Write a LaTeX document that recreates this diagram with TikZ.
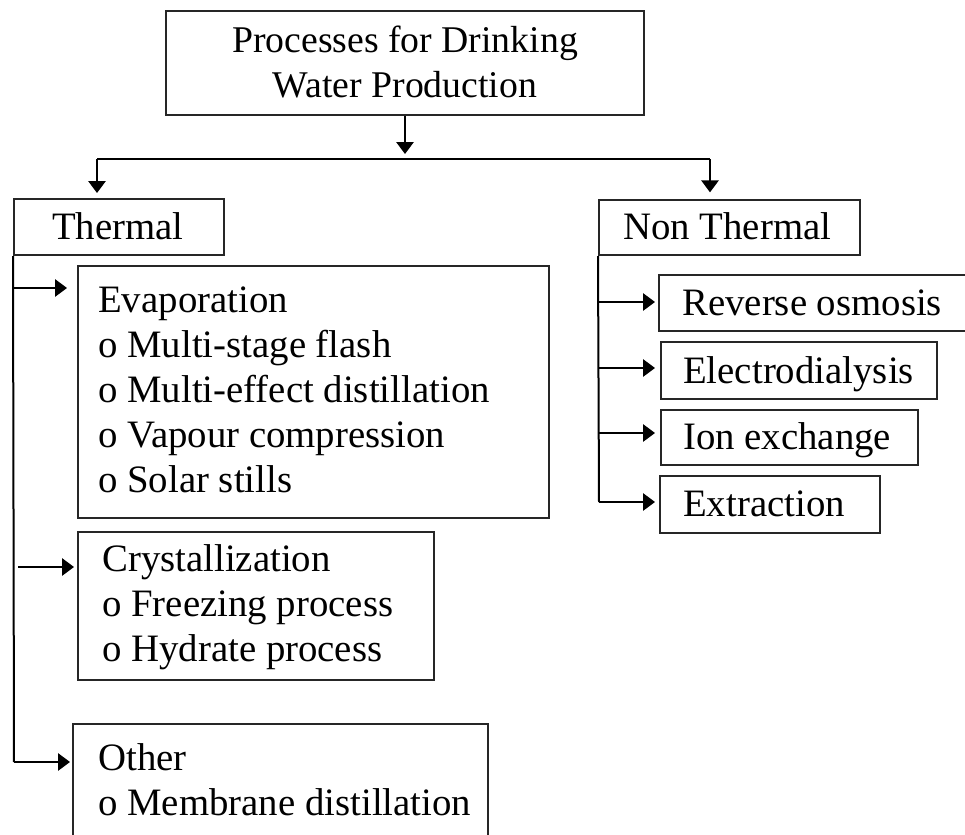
\documentclass[tikz,border=0pt]{standalone}
\usepackage{fontspec}
\setmainfont{Liberation Serif}
\usetikzlibrary{arrows.meta,fit}
\begin{document}
\begin{tikzpicture}[x=0.75pt,y=-0.75pt,
  box/.style={draw=black!85,line width=1.5pt,inner sep=0pt},
  txt/.style={inner sep=0pt,anchor=base west,align=left,font=\fontsize{29.1pt}{33.6pt}\selectfont},
  toptxt/.style={inner sep=0pt,anchor=base,align=center,font=\fontsize{28.3pt}{33.75pt}\selectfont},
  conn/.style={line width=1.5pt,draw=black},
  arr/.style={conn,-{Triangle[width=13pt,length=9pt]}}]
\useasboundingbox (0,0) rectangle (965,835);
\clip (0,0) rectangle (965,835);
% boxes
\node[box,fit={(166,11) (644,115)}] (top) {};
\node[box,fit={(14,199) (224,255)}] (thermal) {};
\node[box,fit={(599,200) (860,255)}] (nonth) {};
\node[box,fit={(78,266) (549,518)}] (evap) {};
\node[box,fit={(78,532) (434,680)}] (cryst) {};
\node[box,fit={(73,724) (488,860)}] (other) {};
\node[box,fit={(659,275) (980,331)}] (ro) {};
\node[box,fit={(661,342) (937,399)}] (ed) {};
\node[box,fit={(661,410) (918,465)}] (ie) {};
\node[box,fit={(660,476) (880,533)}] (ex) {};
% texts (multi-line nodes are anchored at the baseline of their last line)
\node[toptxt] (toptext) at (405,97) {Processes for Drinking\\Water Production};
\node[txt] (thermaltext) at (52,239) {Thermal};
\node[txt] (nonthtext) at (623,239) {Non Thermal};
\node[txt] (evaptext) at (98,492) {Evaporation\\o Multi-stage flash\\o Multi-effect distillation\\o Vapour compression\\o Solar stills};
\node[txt] (crysttext) at (102,661) {Crystallization\\o Freezing process\\o Hydrate process};
\node[txt] (othertext) at (98,815) {Other\\o Membrane distillation};
\node[txt] (rotext) at (682,315) {Reverse osmosis};
\node[txt] (edtext) at (683,383) {Electrodialysis};
\node[txt] (ietext) at (683,449) {Ion exchange};
\node[txt] (extext) at (683,516) {Extraction};
% connectors
\coordinate (jtip) at (405,154);
\coordinate (hL) at (97,159);
\coordinate (hR) at (710,159);
\draw[arr] (top.south) -- (jtip);
\draw[conn] (hL) -- (hR);
\draw[arr,shorten >=3.75pt] (hL) -- (hL |- thermal.north);
\draw[arr,shorten >=5pt] (hR) -- (hR |- nonth.north);
% thermal branch
\coordinate (ea) at (12,288);
\coordinate (ca) at (18,567);
\coordinate (oa) at (14,762);
\draw[conn] (thermal.south west) -- (oa);
\draw[arr,shorten >=1.5pt] (oa) -- (other.north west |- oa);
\draw[arr,shorten >=7.5pt] (ea) -- (evap.north west |- ea);
\draw[arr,shorten >=2.25pt] (ca) -- (cryst.north west |- ca);
% non-thermal branch
\coordinate (n1) at (599,302);
\coordinate (n2) at (599,368);
\coordinate (n3) at (599,433);
\coordinate (n4) at (599,502);
\draw[conn] (nonth.south west) -- (n4);
\draw[arr,shorten >=2.25pt] (n1) -- (ro.north west |- n1);
\draw[arr,shorten >=3.75pt] (n2) -- (ed.north west |- n2);
\draw[arr,shorten >=3.75pt] (n3) -- (ie.north west |- n3);
\draw[arr,shorten >=3pt] (n4) -- (ex.north west |- n4);
\end{tikzpicture}
\end{document}
